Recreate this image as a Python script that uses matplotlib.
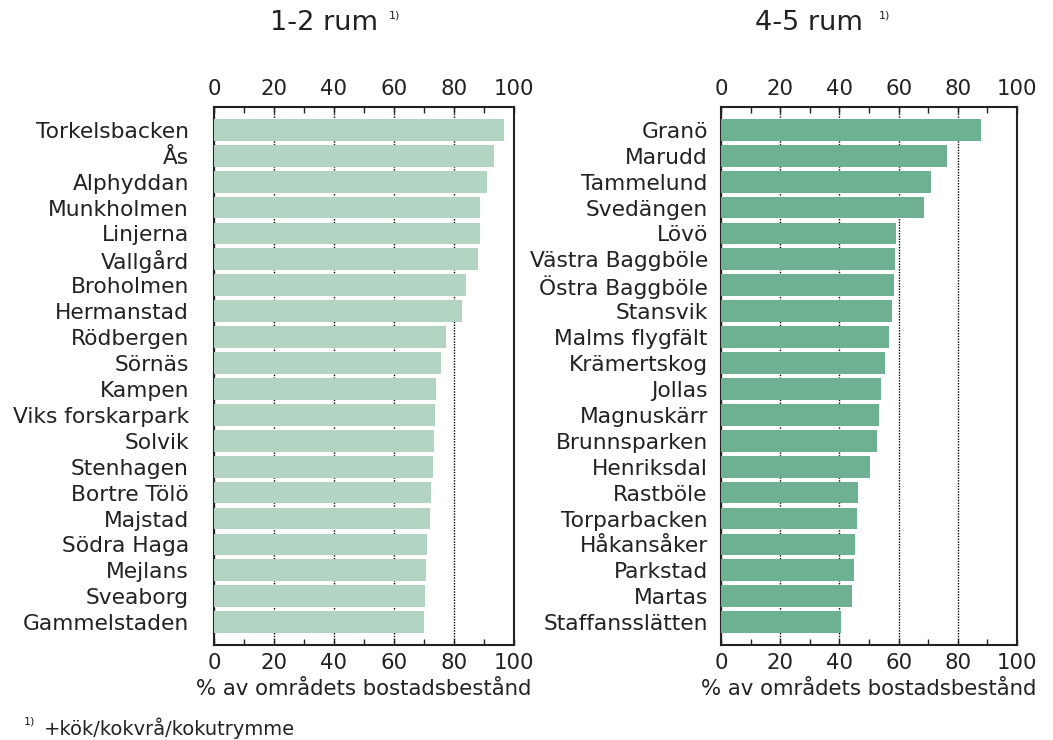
import numpy as np
import matplotlib.pyplot as plt
from matplotlib.ticker import MultipleLocator

# data
areas_small = ['Torkelsbacken', 'Ås', 'Alphyddan', 'Munkholmen', 'Linjerna', 'Vallgård',
               'Broholmen', 'Hermanstad', 'Rödbergen', 'Sörnäs', 'Kampen', 'Viks forskarpark',
               'Solvik', 'Stenhagen', 'Bortre Tölö', 'Majstad', 'Södra Haga', 'Mejlans',
               'Sveaborg', 'Gammelstaden']
share_small = [96.6, 93.3, 90.9, 88.7, 88.7, 88.0, 83.9, 82.7, 77.4, 75.7, 74.0, 73.6,
               73.3, 72.9, 72.3, 71.9, 71.1, 70.8, 70.3, 69.9]

areas_large = ['Granö', 'Marudd', 'Tammelund', 'Svedängen', 'Lövö', 'Västra Baggböle',
               'Östra Baggböle', 'Stansvik', 'Malms flygfält', 'Krämertskog', 'Jollas',
               'Magnuskärr', 'Brunnsparken', 'Henriksdal', 'Rastböle', 'Torparbacken',
               'Håkansåker', 'Parkstad', 'Martas', 'Staffansslätten']
share_large = [87.9, 76.2, 70.9, 68.5, 59.1, 58.7, 58.3, 57.9, 56.8, 55.4, 53.9,
               53.3, 52.6, 50.5, 46.2, 45.8, 45.3, 44.9, 44.3, 40.4]

xticks = [0, 20, 40, 60, 80, 100]
xlabel = '% av områdets bostadsbestånd'

txt = '#222222'
plt.rcParams['font.family'] = 'DejaVu Sans'
plt.rcParams['text.color'] = txt

fig = plt.figure(figsize=(10.53, 7.40), dpi=100)
ax1 = fig.add_axes([0.2032, 0.1284, 0.2849, 0.7270])
ax2 = fig.add_axes([0.6847, 0.1284, 0.2811, 0.7270])


def draw(ax, names, vals, color, ypad):
    y = np.arange(len(names))
    ax.barh(y, vals, height=0.84, color=color, zorder=3)
    ax.set_xlim(0, 100)
    ax.set_ylim(len(names) - 0.12, -0.88)
    ax.set_yticks(y)
    ax.set_yticklabels(names, fontsize=15.7, color=txt)
    ax.tick_params(axis='y', length=0, pad=ypad)
    ax.set_xticks(xticks)
    ax.xaxis.set_minor_locator(MultipleLocator(10))
    ax.tick_params(axis='x', which='both', direction='in', top=True, bottom=True,
                   labeltop=True, labelbottom=True, labelsize=15.3, labelcolor=txt,
                   color='#222222', pad=6)
    ax.tick_params(axis='x', which='major', length=4, width=1)
    ax.tick_params(axis='x', which='minor', length=4, width=1)
    ax.grid(axis='x', which='major', color='black', linestyle=(0, (1, 1)),
            linewidth=1, zorder=1)
    ax.set_axisbelow(True)
    for s in ax.spines.values():
        s.set_linewidth(1.5)
        s.set_color('#222222')
    ax.set_xlabel(xlabel, fontsize=15.3, color=txt, labelpad=4)


draw(ax1, areas_small, share_small, '#b3d4c3', 18)
draw(ax2, areas_large, share_large, '#6db192', 9.5)

# titles with footnote marks
fig.text(270 / 1053, 1 - 23 / 740, '1-2 rum', fontsize=19.5, ha='left', va='center')
fig.text(389 / 1053, 1 - 16 / 740, '1)', fontsize=8, ha='left', va='center')
fig.text(755 / 1053, 1 - 23 / 740, '4-5 rum', fontsize=19.5, ha='left', va='center')
fig.text(879 / 1053, 1 - 16 / 740, '1)', fontsize=8, ha='left', va='center')

# footnote
fig.text(24 / 1053, 1 - 722 / 740, '1)', fontsize=8, ha='left', va='center')
fig.text(44 / 1053, 1 - 728 / 740, '+kök/kokvrå/kokutrymme', fontsize=14, ha='left', va='center')

fig.savefig('out.png', dpi=100)
